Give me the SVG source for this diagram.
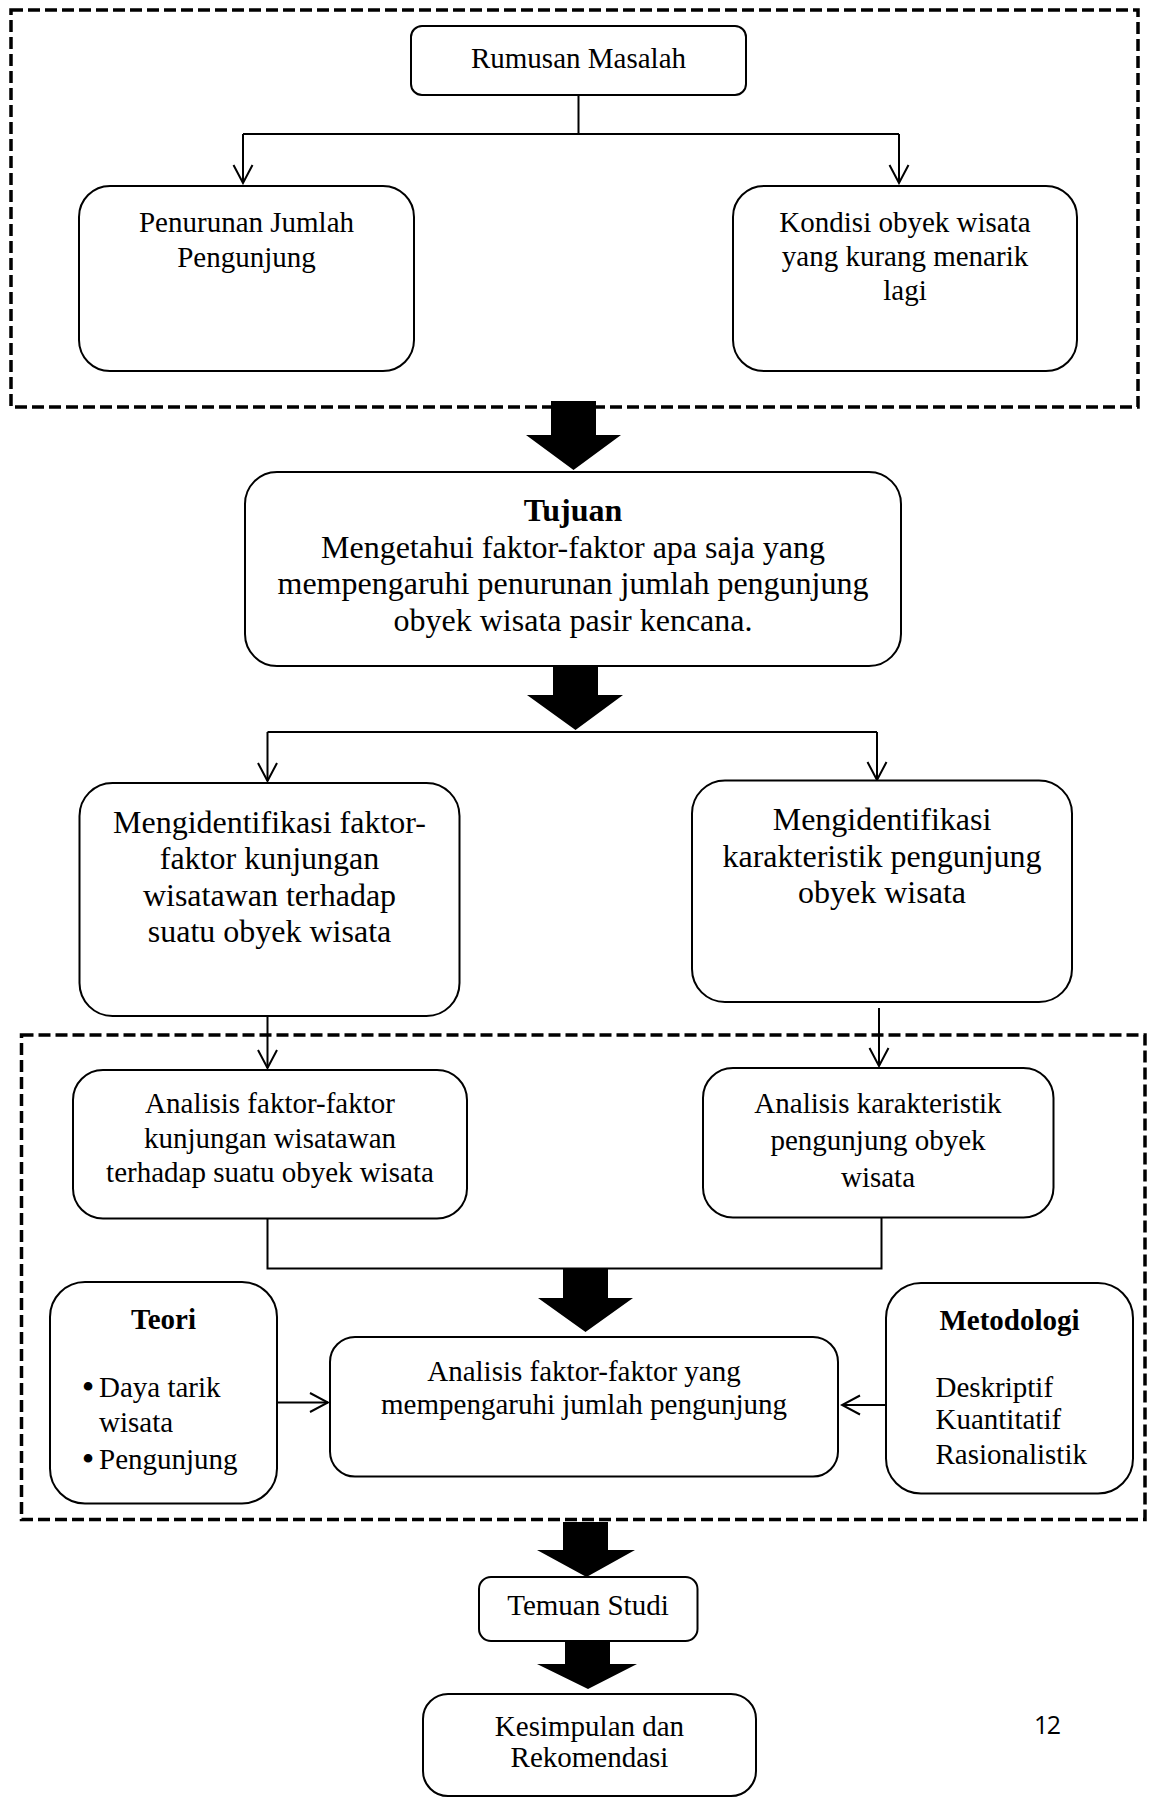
<svg xmlns="http://www.w3.org/2000/svg" width="1149" height="1797" viewBox="0 0 1149 1797">
<defs>
<style>
.bg{fill:#fff}
.box{fill:#fff;stroke:#000;stroke-width:2}
.dash{fill:none;stroke:#000;stroke-width:3.5;stroke-dasharray:12 5}
.con{fill:none;stroke:#000;stroke-width:2}
.blk{fill:#000;stroke:none}
text{font-family:"Liberation Serif","Times New Roman",serif;fill:#000}
.s{font-size:29px;text-anchor:middle}
.l{font-size:32px;text-anchor:middle}
.b{font-weight:bold}
.lft{font-size:29px;text-anchor:start}
.bul{font-size:36px;text-anchor:middle}
.pg{font-family:"Open Sans","Liberation Sans",sans-serif;font-size:25px}
</style>
<marker id="open" viewBox="-20 -11 22 22" refX="0" refY="0" markerWidth="22" markerHeight="22" markerUnits="userSpaceOnUse" orient="auto">
<path d="M-18,-9.5 L0,0 L-18,9.5" fill="none" stroke="#000" stroke-width="2"/>
</marker>
</defs>
<rect class="bg" x="0" y="0" width="1149" height="1797"/>

<g id="frames">
<rect class="dash" x="11" y="10" width="1127" height="397"/>
<rect class="dash" x="21.5" y="1035" width="1123.5" height="484.5"/>
</g>

<g id="connectors">
<path class="con" d="M578.5,95 V134 M243,134 H899" />
<path class="con" d="M243,134 V183" marker-end="url(#open)"/>
<path class="con" d="M899,134 V183" marker-end="url(#open)"/>
<path class="con" d="M267.5,732 H877" />
<path class="con" d="M267.5,732 V781" marker-end="url(#open)"/>
<path class="con" d="M877,732 V780" marker-end="url(#open)"/>
<path class="con" d="M267.5,1016 V1068" marker-end="url(#open)"/>
<path class="con" d="M879,1008 V1066" marker-end="url(#open)"/>
<path class="con" d="M267.5,1218.5 V1268.5 H881.5 V1217.5"/>
<path class="con" d="M277,1402.5 H328" marker-end="url(#open)"/>
<path class="con" d="M887,1405 H842" marker-end="url(#open)"/>
<polygon class="blk" points="551,401 596,401 596,435 621,435 573.5,470 526,435 551,435"/>
<polygon class="blk" points="553,666 598,666 598,695 623,695 575.5,730 527,695 553,695"/>
<polygon class="blk" points="563,1268 608,1268 608,1298 633,1298 585.5,1332 538,1298 563,1298"/>
<polygon class="blk" points="563,1522 608,1522 608,1550 635,1550 586.5,1577 537,1550 563,1550"/>
<polygon class="blk" points="565,1642 610,1642 610,1664 637,1664 588,1689 537,1664 565,1664"/>
</g>

<g id="rumusan">
<rect class="box" x="411" y="26" width="335" height="69" rx="11"/>
<text class="s" x="578.5" y="68">Rumusan Masalah</text>
</g>

<g id="penurunan">
<rect class="box" x="79" y="186" width="335" height="185" rx="31"/>
<text class="s" x="246.5" y="232">Penurunan Jumlah</text>
<text class="s" x="246.5" y="266.5">Pengunjung</text>
</g>

<g id="kondisi">
<rect class="box" x="733" y="186" width="344" height="185" rx="31"/>
<text class="s" x="905" y="232">Kondisi obyek wisata</text>
<text class="s" x="905" y="266">yang kurang menarik</text>
<text class="s" x="905" y="299.5">lagi</text>
</g>

<g id="tujuan">
<rect class="box" x="245" y="472" width="656" height="194" rx="32"/>
<text class="l b" x="573" y="521">Tujuan</text>
<text class="l" x="573" y="557.5">Mengetahui faktor-faktor apa saja yang</text>
<text class="l" x="573" y="594">mempengaruhi penurunan jumlah pengunjung</text>
<text class="l" x="573" y="631">obyek wisata pasir kencana.</text>
</g>

<g id="identifikasi-faktor">
<rect class="box" x="79.5" y="783" width="380" height="233" rx="33"/>
<text class="l" x="269.5" y="833">Mengidentifikasi faktor-</text>
<text class="l" x="269.5" y="869">faktor kunjungan</text>
<text class="l" x="269.5" y="905.5">wisatawan terhadap</text>
<text class="l" x="269.5" y="942">suatu obyek wisata</text>
</g>

<g id="identifikasi-karakteristik">
<rect class="box" x="692" y="780.5" width="380" height="221.5" rx="33"/>
<text class="l" x="882" y="829.5">Mengidentifikasi</text>
<text class="l" x="882" y="867">karakteristik pengunjung</text>
<text class="l" x="882" y="903">obyek wisata</text>
</g>

<g id="analisis-faktor">
<rect class="box" x="73" y="1070" width="394" height="148.5" rx="30"/>
<text class="s" x="270" y="1113">Analisis faktor-faktor</text>
<text class="s" x="270" y="1148">kunjungan wisatawan</text>
<text class="s" x="270" y="1182">terhadap suatu obyek wisata</text>
</g>

<g id="analisis-karakteristik">
<rect class="box" x="703" y="1068" width="350.5" height="149.5" rx="30"/>
<text class="s" x="878" y="1112.5">Analisis karakteristik</text>
<text class="s" x="878" y="1149.5">pengunjung obyek</text>
<text class="s" x="878" y="1187">wisata</text>
</g>

<g id="teori">
<rect class="box" x="50" y="1282" width="227" height="221.5" rx="35"/>
<text class="s b" x="163.5" y="1329">Teori</text>
<text class="bul" x="88" y="1399">•</text>
<text class="lft" x="99" y="1397">Daya tarik</text>
<text class="lft" x="99" y="1432">wisata</text>
<text class="bul" x="88" y="1471">•</text>
<text class="lft" x="99" y="1469">Pengunjung</text>
</g>

<g id="analisis-utama">
<rect class="box" x="330" y="1337" width="508" height="139.5" rx="25"/>
<text class="s" x="584" y="1381">Analisis faktor-faktor yang</text>
<text class="s" x="584" y="1413.5">mempengaruhi jumlah pengunjung</text>
</g>

<g id="metodologi">
<rect class="box" x="886" y="1283" width="247" height="210.5" rx="35"/>
<text class="s b" x="1009.5" y="1330">Metodologi</text>
<text class="lft" x="935.5" y="1397">Deskriptif</text>
<text class="lft" x="935.5" y="1429">Kuantitatif</text>
<text class="lft" x="935.5" y="1464">Rasionalistik</text>
</g>

<g id="temuan">
<rect class="box" x="479" y="1577" width="218.5" height="64" rx="12"/>
<text class="s" x="588" y="1615">Temuan Studi</text>
</g>

<g id="kesimpulan">
<rect class="box" x="423" y="1694" width="333" height="102" rx="25"/>
<text class="s" x="589.5" y="1736">Kesimpulan dan</text>
<text class="s" x="589.5" y="1767">Rekomendasi</text>
</g>

<g id="page-number">
<text class="pg" x="1034" y="1734" textLength="27">12</text>
</g>
</svg>
